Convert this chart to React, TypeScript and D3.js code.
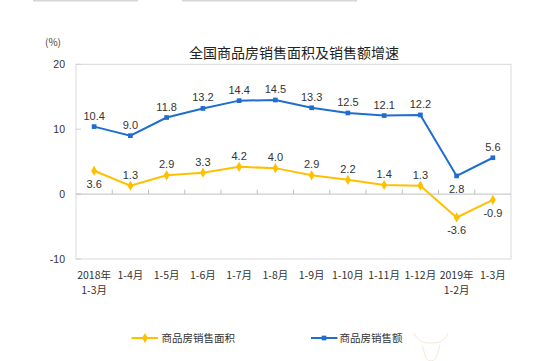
import React from 'react';
import * as d3 from 'd3';

const categories = ['2018年|1-3月', '1-4月', '1-5月', '1-6月', '1-7月', '1-8月', '1-9月', '1-10月', '1-11月', '1-12月', '2019年|1-2月', '1-3月'];
const areaValues = [3.6, 1.3, 2.9, 3.3, 4.2, 4.0, 2.9, 2.2, 1.4, 1.3, -3.6, -0.9];
const salesValues = [10.4, 9.0, 11.8, 13.2, 14.4, 14.5, 13.3, 12.5, 12.1, 12.2, 2.8, 5.6];
const areaLabelSide = ['below', 'above', 'above', 'above', 'above', 'above', 'above', 'above', 'above', 'above', 'below', 'below'];
const salesLabelSide = ['above', 'above', 'above', 'above', 'above', 'above', 'above', 'above', 'above', 'above', 'below', 'above'];
const yTicks = [20, 10, 0, -10];
const seriesNames = ['商品房销售面积', '商品房销售额'];
const title = '全国商品房销售面积及销售额增速';

const W = 550, H = 361;
const left = 76, right = 511, top = 64.3, bottom = 259;
const YELLOW = '#FFC000';
const BLUE = '#1F6ECF';
const CJK = '"Noto Sans CJK SC", "Noto Sans", sans-serif';
const LAT = '"Liberation Sans", Arial, sans-serif';

export default function App() {
  const x = d3.scaleBand<string>().domain(categories).range([left, right]).padding(0);
  const y = d3.scaleLinear().domain([-10, 20]).range([bottom, top]);
  const cx = (i: number) => (x(categories[i]) as number) + x.bandwidth() / 2;
  const line = d3.line<number>().x((_, i) => cx(i)).y((d) => y(d));
  const diamond = d3.symbol().type(d3.symbolDiamond).size(30)() as string;
  const square = d3.symbol().type(d3.symbolSquare).size(22)() as string;

  const label = (v: number, i: number, side: string) => {
    const py = y(v);
    const ty = side === 'above' ? py - 7 : py + 17;
    return (
      <text key={i} x={cx(i)} y={ty} textAnchor="middle" fontSize={11} fontFamily={LAT} fill="#333">
        {v.toFixed(1)}
      </text>
    );
  };

  return (
    <svg width={W} height={H} style={{ position: 'absolute', left: 0, top: 0, background: '#fff' }}>
      <g fill="#d6d6d6">
        <rect x={33} y={0} width={105} height={1.5} />
        <rect x={182} y={0} width={175} height={1.5} />
      </g>

      <text x={45} y={46} fontSize={10} fontFamily={CJK} fill="#444">(%)</text>
      <text x={294} y={57.5} textAnchor="middle" fontSize={14} fontFamily={CJK} fill="#222">{title}</text>

      <rect x={left} y={top} width={right - left} height={bottom - top} fill="none" stroke="#d9d9d9" strokeWidth={1} />
      {yTicks.map((t) => (
        <g key={t}>
          <text x={65} y={y(t) + 4} textAnchor="end" fontSize={10.5} fontFamily={LAT} fill="#333">{t}</text>
          <line x1={left} x2={left + 5} y1={y(t)} y2={y(t)} stroke="#d0d0d0" />
        </g>
      ))}
      <line x1={left} x2={right} y1={y(0)} y2={y(0)} stroke="#bfbfbf" strokeWidth={1} />
      {categories.slice(1).map((c) => (
        <line key={c} x1={x(c) as number} x2={x(c) as number} y1={y(0)} y2={y(0) - 4.5} stroke="#bfbfbf" />
      ))}

      {categories.map((c, i) => {
        const parts = c.split('|');
        return (
          <g key={c}>
            {parts.map((p, k) => (
              <text key={k} x={cx(i)} y={279 + k * 15} textAnchor="middle" fontSize={10.5} fontFamily={CJK} fill="#333">{p}</text>
            ))}
          </g>
        );
      })}

      <path d={line(salesValues) as string} fill="none" stroke={BLUE} strokeWidth={2} />
      {salesValues.map((v, i) => (
        <path key={i} d={square} transform={`translate(${cx(i)},${y(v)})`} fill={BLUE} />
      ))}
      <path d={line(areaValues) as string} fill="none" stroke={YELLOW} strokeWidth={2} />
      {areaValues.map((v, i) => (
        <path key={i} d={diamond} transform={`translate(${cx(i)},${y(v)})`} fill={YELLOW} />
      ))}

      {salesValues.map((v, i) => label(v, i, salesLabelSide[i]))}
      {areaValues.map((v, i) => label(v, i, areaLabelSide[i]))}

      <line x1={131.5} x2={158} y1={338} y2={338} stroke={YELLOW} strokeWidth={2} />
      <path d={diamond} transform="translate(145,338)" fill={YELLOW} />
      <text x={161.5} y={342} fontSize={10.5} fontFamily={CJK} fill="#333">{seriesNames[0]}</text>
      <line x1={311} x2={337.5} y1={338} y2={338} stroke={BLUE} strokeWidth={2} />
      <path d={square} transform="translate(324,338)" fill={BLUE} />
      <text x={339.5} y={342} fontSize={10.5} fontFamily={CJK} fill="#333">{seriesNames[1]}</text>

      <g fill="none" stroke="#f2ead8" strokeWidth={1}>
        <path d="M414,333 Q418,344 431,343 Q444,344 448,333" />
        <path d="M422,345 L426,358 Q431,364 436,358 L440,345" />
      </g>
    </svg>
  );
}
